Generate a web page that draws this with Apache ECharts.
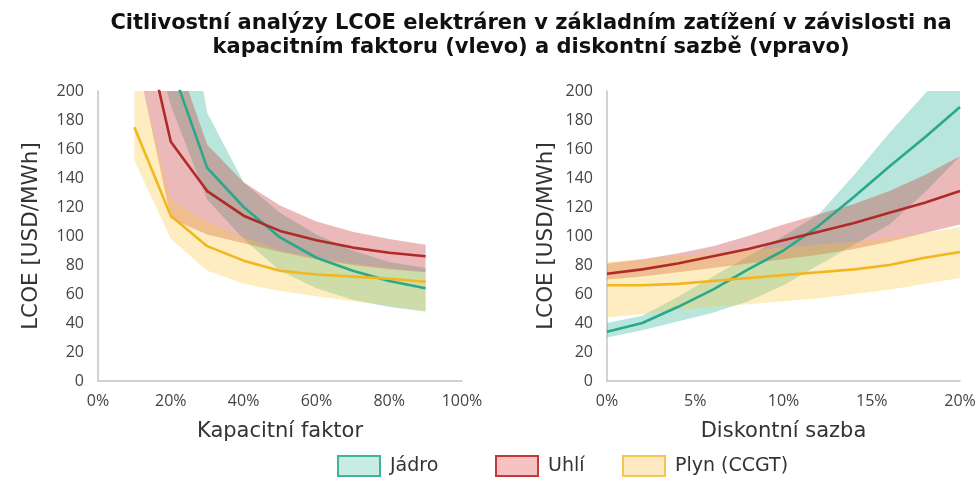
<!DOCTYPE html>
<html>
<head>
<meta charset="utf-8">
<script src="https://cdn.jsdelivr.net/npm/echarts@6/dist/echarts.min.js"></script>
<style>html,body{margin:0;padding:0;background:#fff}#c{width:979px;height:482px}</style>
</head>
<body>
<div id="c"></div>
<script>
// ---- Data ----
const capFactor = [10, 20, 30, 40, 50, 60, 70, 80, 90];          // %
const nucCF     = [440, 218, 147, 120, 99, 85, 76, 69, 64];
const nucCFLo   = [280, 190, 125, 98, 76, 64, 56, 51, 48];
const nucCFHi   = [600, 330, 185, 137, 116, 101, 90, 82, 78];
const coalCF    = [275, 165, 131, 114, 103.5, 97, 92, 88.5, 86];
const coalCFLo  = [230, 112, 101, 95, 89, 84, 80, 77, 75];
const coalCFHi  = [330, 235, 163, 137, 121, 110, 103, 98, 94];
const gasCF     = [175, 114, 93, 83, 76, 73.5, 72, 70.5, 68.5];
const gasCFLo   = [152, 98, 76, 67, 62, 58.5, 55, 52, 48];
const gasCFHi   = [225, 125, 110, 99, 90, 85, 81, 78, 75];

const discRate  = [0, 2, 4, 6, 8, 10, 12, 14, 16, 18, 20];     // %
const nucDR     = [34, 40, 51, 63, 77, 90, 107, 127, 148, 168, 189];
const nucDRLo   = [30, 35, 41, 47, 55, 66, 80, 94, 108, 130, 155];
const nucDRHi   = [40, 45, 58, 72, 86, 100, 115, 142, 171, 198, 226];
const coalDR    = [74, 77, 81, 86, 91, 97, 103, 109, 116, 123, 131];
const coalDRLo  = [70, 72, 75, 78, 81, 84, 87, 91, 96, 102, 108];
const coalDRHi  = [81, 84, 88, 93, 100, 108, 115, 122, 131, 142, 155];
const gasDR     = [66, 66, 67, 69, 71, 73, 75, 77, 80, 85, 89];
const gasDRLo   = [44, 46, 49, 51, 53, 55, 57, 60, 63, 67, 71];
const gasDRHi   = [82, 84, 86, 88, 90, 92, 94, 96, 99, 102, 106];

const yTicks = { min: 0, max: 200, interval: 20 };
const techNames = ['Jádro', 'Uhlí', 'Plyn (CCGT)'];

// ---- Styles ----
const lineColors = ['#2aa98a', '#b02a2a', '#f2b71e'];
const bandColors = ['rgba(40,180,150,0.33)', 'rgba(200,60,60,0.36)', 'rgba(250,200,60,0.32)'];
const legendFill = ['#c8ece2', '#f8c2c2', '#fdeac2'];
const legendBorder = ['#40b596', '#c03a3c', '#f6c453'];

function zip(xs, ys) { return xs.map((x, i) => [x, ys[i]]); }

// clip a polygon (data space) to y <= ymax
function clipTop(pts, ymax) {
  const out = [];
  for (let i = 0; i < pts.length; i++) {
    const a = pts[i], b = pts[(i + 1) % pts.length];
    const ain = a[1] <= ymax, bin = b[1] <= ymax;
    if (ain) out.push(a);
    if (ain !== bin) {
      const t = (ymax - a[1]) / (b[1] - a[1]);
      out.push([a[0] + t * (b[0] - a[0]), ymax]);
    }
  }
  return out;
}

function bandSeries(idx, ai, xs, lo, hi, line) {
  const name = techNames[idx];
  const poly = xs.map((x, i) => [x, hi[i]]).concat(xs.map((x, i) => [x, lo[i]]).reverse());
  return [
    { type: 'custom', name: name, xAxisIndex: ai, yAxisIndex: ai, silent: true, z: 1,
      itemStyle: { color: bandColors[idx] },
      data: xs.map((x, i) => [x, lo[i], hi[i]]),
      renderItem: function (params, api) {
        if (params.dataIndex !== 0) return null;
        const clipped = clipTop(poly, yTicks.max);
        return { type: 'polygon', shape: { points: clipped.map(p => api.coord(p)) },
                 style: { fill: bandColors[idx] } };
      } },
    { type: 'line', name: name, xAxisIndex: ai, yAxisIndex: ai, data: zip(xs, line), symbol: 'none',
      lineStyle: { color: lineColors[idx], width: 2.6 }, itemStyle: { color: lineColors[idx] }, z: 3 }
  ];
}

const series = [].concat(
  bandSeries(0, 0, capFactor, nucCFLo, nucCFHi, nucCF),
  bandSeries(1, 0, capFactor, coalCFLo, coalCFHi, coalCF),
  bandSeries(2, 0, capFactor, gasCFLo, gasCFHi, gasCF),
  bandSeries(0, 1, discRate, nucDRLo, nucDRHi, nucDR),
  bandSeries(1, 1, discRate, coalDRLo, coalDRHi, coalDR),
  bandSeries(2, 1, discRate, gasDRLo, gasDRHi, gasDR)
);

const axisLine = { show: true, lineStyle: { color: '#c4c4c4', width: 1.5 } };
const tickLabel = { color: '#444', fontFamily: 'Open Sans', fontSize: 16 };
const nameStyle = { color: '#333', fontFamily: 'DejaVu Sans', fontSize: 21 };

function xAx(grid, max, interval, name) {
  return { type: 'value', gridIndex: grid, min: 0, max: max, interval: interval,
    name: name, nameLocation: 'middle', nameGap: 40, nameTextStyle: nameStyle,
    axisLine: axisLine, axisTick: { show: false }, splitLine: { show: false },
    axisLabel: Object.assign({ formatter: '{value}%', margin: 12 }, tickLabel) };
}
function yAx(grid, gap) {
  return { type: 'value', gridIndex: grid, min: yTicks.min, max: yTicks.max, interval: yTicks.interval,
    name: 'LCOE [USD/MWh]', nameLocation: 'middle', nameGap: gap, nameTextStyle: Object.assign({}, nameStyle, { fontSize: 21.5 }),
    axisLine: axisLine, axisTick: { show: false }, splitLine: { show: false },
    axisLabel: Object.assign({ margin: 14 }, tickLabel) };
}

const legendLefts = [337, 495, 622];
const legends = techNames.map((n, i) => ({
  left: legendLefts[i], top: 455, orient: 'horizontal', padding: 0,
  itemWidth: 42, itemHeight: 20, icon: 'rect',
  textStyle: { fontFamily: 'DejaVu Sans', fontSize: 19, color: '#333', padding: [0, 0, 0, 5] },
  data: [{ name: n, icon: 'rect', itemStyle: { color: legendFill[i], borderColor: legendBorder[i], borderWidth: 2 } }],
  selectedMode: false
}));

const option = {
  backgroundColor: '#fff',
  animation: false,
  title: {
    text: 'Citlivostní analýzy LCOE elektráren v základním zatížení v závislosti na\nkapacitním faktoru (vlevo) a diskontní sazbě (vpravo)',
    left: 526, top: 7, textAlign: 'center',
    textStyle: { fontFamily: 'DejaVu Sans', fontWeight: 'bold', fontSize: 21, lineHeight: 24, color: '#111' }
  },
  legend: legends,
  grid: [
    { left: 98, right: 517, top: 91, bottom: 101 },
    { left: 607, right: 19, top: 91, bottom: 101 }
  ],
  xAxis: [xAx(0, 100, 20, 'Kapacitní faktor'), xAx(1, 20, 5, 'Diskontní sazba')],
  yAxis: [yAx(0, 56), yAx(1, 50)],
  series: series
};

const chart = echarts.init(document.getElementById('c'), null, { renderer: 'canvas' });
chart.setOption(option);
</script>
</body>
</html>
